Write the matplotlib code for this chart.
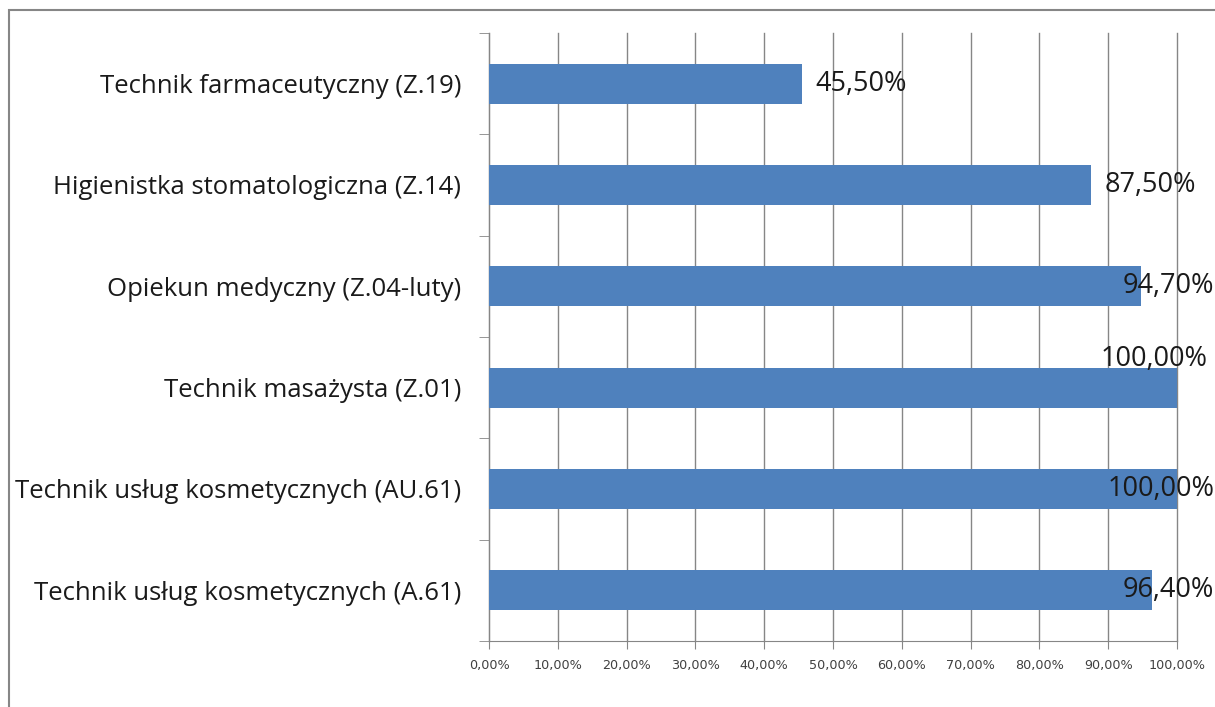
import matplotlib.pyplot as plt
from matplotlib.patches import Rectangle
from matplotlib.ticker import MultipleLocator, FuncFormatter

categories = [
    "Technik usług kosmetycznych (A.61)",
    "Technik usług kosmetycznych (AU.61)",
    "Technik masażysta (Z.01)",
    "Opiekun medyczny (Z.04-luty)",
    "Higienistka stomatologiczna (Z.14)",
    "Technik farmaceutyczny (Z.19)",
]
values = [96.4, 100.0, 100.0, 94.7, 87.5, 45.5]

def pct(v):
    return f"{v:.2f}".replace(".", ",") + "%"

fig = plt.figure(figsize=(12.15, 7.07), dpi=100)
fig.patches.append(Rectangle((9 / 1215, -0.1), 1.2, 1 - 10 / 707 + 0.1,
                             transform=fig.transFigure, fill=False,
                             edgecolor="#868686", linewidth=1.5))
ax = fig.add_axes([489 / 1215, 1 - 641 / 707, 688 / 1215, 608 / 707])

y = list(range(len(categories)))
ax.barh(y, values, height=0.395, color="#4F81BD", zorder=3)

ax.set_xlim(0, 100)
ax.set_ylim(-0.5, len(categories) - 0.5)
ax.xaxis.set_major_locator(MultipleLocator(10))
ax.xaxis.set_major_formatter(FuncFormatter(lambda v, p: pct(v)))
ax.grid(axis="x", color="#868686", linewidth=1, zorder=0)
for g in ax.get_xgridlines():
    g.set_clip_on(False)

ax.set_yticks(y)
ax.set_yticklabels(categories, fontsize=18.5, family="Open Sans", color="#1a1a1a")
ax.set_yticks([i - 0.5 for i in range(len(categories) + 1)], minor=True)
ax.tick_params(axis="y", which="major", length=0, pad=20)
ax.tick_params(axis="y", which="minor", length=7, color="#868686", direction="out")
ax.tick_params(axis="x", length=6, color="#868686", labelsize=9.2,
               labelcolor="#404040", pad=7)
for lbl in ax.get_xticklabels():
    lbl.set_family("DejaVu Sans")

for s in ["top", "right"]:
    ax.spines[s].set_visible(False)
for s in ["left", "bottom"]:
    ax.spines[s].set_color("#868686")

for i, v in enumerate(values):
    txt = pct(v)
    if v <= 90:
        ax.text(v + 2.0, i, txt, ha="left", va="center", fontsize=19.5,
                family="Open Sans", color="#1a1a1a", zorder=4)
    elif i == 2:
        ax.text(104.4, i + 0.28, txt, ha="right", va="center", fontsize=19.5,
                family="Open Sans", color="#1a1a1a", zorder=4, clip_on=False)
    else:
        ax.text(105.4, i, txt, ha="right", va="center", fontsize=19.5,
                family="Open Sans", color="#1a1a1a", zorder=4, clip_on=False)

fig.savefig("out.png", dpi=100)
